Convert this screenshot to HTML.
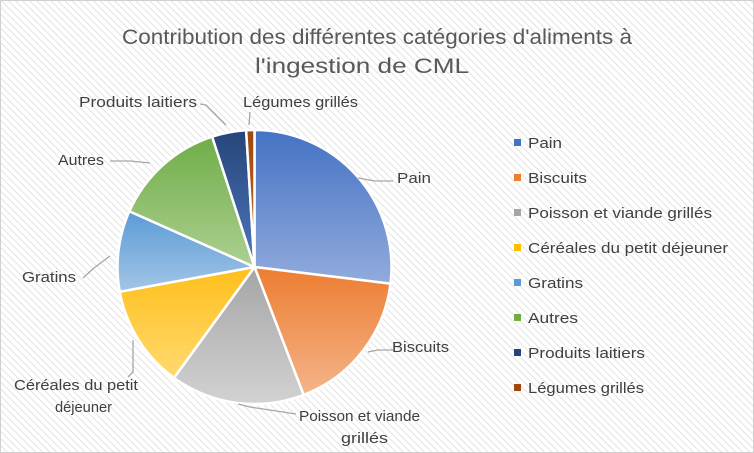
<!DOCTYPE html>
<html><head><meta charset="utf-8"><style>
html,body{margin:0;padding:0;background:#fff}
svg{display:block;font-family:"Liberation Sans",sans-serif}
</style></head><body>
<svg width="754" height="453" viewBox="0 0 754 453" xmlns="http://www.w3.org/2000/svg">
<defs>
<pattern id="h" width="5" height="5" patternUnits="userSpaceOnUse" patternTransform="rotate(-45)">
<rect width="5" height="5" fill="#fff"/><line x1="0" y1="0" x2="0" y2="5" stroke="#dcdcdc" stroke-width="1.6"/>
</pattern>
<linearGradient id="g0" x1="0" y1="0" x2="0" y2="1"><stop offset="0" stop-color="#4472C4"/><stop offset="1" stop-color="#92abdc"/></linearGradient>
<linearGradient id="g1" x1="0" y1="0" x2="0" y2="1"><stop offset="0" stop-color="#ED7D31"/><stop offset="1" stop-color="#f4b48a"/></linearGradient>
<linearGradient id="g2" x1="0" y1="0" x2="0" y2="1"><stop offset="0" stop-color="#a5a5a5"/><stop offset="1" stop-color="#d2d2d2"/></linearGradient>
<linearGradient id="g3" x1="0" y1="0" x2="0" y2="1"><stop offset="0" stop-color="#ffbf1a"/><stop offset="1" stop-color="#ffd970"/></linearGradient>
<linearGradient id="g4" x1="0" y1="0" x2="0" y2="1"><stop offset="0" stop-color="#5B9BD5"/><stop offset="1" stop-color="#a3c5e7"/></linearGradient>
<linearGradient id="g5" x1="0" y1="0" x2="0" y2="1"><stop offset="0" stop-color="#70AD47"/><stop offset="1" stop-color="#acd092"/></linearGradient>
<linearGradient id="g6" x1="0" y1="0" x2="0" y2="1"><stop offset="0" stop-color="#264478"/><stop offset="1" stop-color="#4f77bf"/></linearGradient>
<linearGradient id="g7" x1="0" y1="0" x2="0" y2="1"><stop offset="0" stop-color="#9E480E"/><stop offset="1" stop-color="#c86a2c"/></linearGradient>
</defs>
<rect x="0.5" y="0.5" width="753" height="452" fill="url(#h)" stroke="#d0d0d0"/>
<text x="122" y="44" font-size="21" fill="#595959" textLength="510" lengthAdjust="spacingAndGlyphs">Contribution des différentes catégories d'aliments à</text>
<text x="255" y="73" font-size="21" fill="#595959" textLength="214" lengthAdjust="spacingAndGlyphs">l'ingestion de CML</text>
<g stroke="#fff" stroke-width="2.5" stroke-linejoin="round">
<path fill="url(#g0)" d="M254.5,267 L254.5,130 A137,137 0 0 1 390.48,283.70 Z"/>
<path fill="url(#g1)" d="M254.5,267 L390.48,283.70 A137,137 0 0 1 303.60,394.90 Z"/>
<path fill="url(#g2)" d="M254.5,267 L303.60,394.90 A137,137 0 0 1 173.97,377.84 Z"/>
<path fill="url(#g3)" d="M254.5,267 L173.97,377.84 A137,137 0 0 1 119.75,291.73 Z"/>
<path fill="url(#g4)" d="M254.5,267 L119.75,291.73 A137,137 0 0 1 129.35,211.28 Z"/>
<path fill="url(#g5)" d="M254.5,267 L129.35,211.28 A137,137 0 0 1 212.16,136.70 Z"/>
<path fill="url(#g6)" d="M254.5,267 L212.16,136.70 A137,137 0 0 1 246.14,130.26 Z"/>
<path fill="url(#g7)" d="M254.5,267 L246.14,130.26 A137,137 0 0 1 254.5,130 Z"/>
</g>
<g stroke="#a6a6a6" stroke-width="1.3" fill="none">
<polyline points="358,178 375,181 393,181"/>
<polyline points="368,352 378,350 393,350"/>
<polyline points="238,404 250,407 296,414"/>
<polyline points="133,340 133,372 128,377"/>
<polyline points="83,278 94,268 110,256"/>
<polyline points="110,161 130,161 150,163"/>
<polyline points="200,104 206,105 226,125"/>
<polyline points="250,112 249,125"/>
</g>
<g font-size="15" fill="#404040" lengthAdjust="spacingAndGlyphs">
<text x="397" y="183" textLength="34" lengthAdjust="spacingAndGlyphs">Pain</text>
<text x="392" y="352" textLength="57" lengthAdjust="spacingAndGlyphs">Biscuits</text>
<text x="299" y="421" textLength="121" lengthAdjust="spacingAndGlyphs">Poisson et viande</text>
<text x="341" y="443" textLength="47" lengthAdjust="spacingAndGlyphs">grillés</text>
<text x="14" y="390" textLength="124" lengthAdjust="spacingAndGlyphs">Céréales du petit</text>
<text x="55" y="412" textLength="57" lengthAdjust="spacingAndGlyphs">déjeuner</text>
<text x="22" y="282" textLength="54" lengthAdjust="spacingAndGlyphs">Gratins</text>
<text x="58" y="165" textLength="46" lengthAdjust="spacingAndGlyphs">Autres</text>
<text x="79" y="107" textLength="118" lengthAdjust="spacingAndGlyphs">Produits laitiers</text>
<text x="243" y="107" textLength="115" lengthAdjust="spacingAndGlyphs">Légumes grillés</text>
</g>
<g font-size="15" fill="#404040">
<rect x="514" y="139" width="7" height="7" fill="#4472C4"/><text x="528" y="148" textLength="34" lengthAdjust="spacingAndGlyphs">Pain</text>
<rect x="514" y="174" width="7" height="7" fill="#ED7D31"/><text x="528" y="183" textLength="59" lengthAdjust="spacingAndGlyphs">Biscuits</text>
<rect x="514" y="209" width="7" height="7" fill="#A5A5A5"/><text x="528" y="218" textLength="184" lengthAdjust="spacingAndGlyphs">Poisson et viande grillés</text>
<rect x="514" y="244" width="7" height="7" fill="#FFC000"/><text x="528" y="253" textLength="200" lengthAdjust="spacingAndGlyphs">Céréales du petit déjeuner</text>
<rect x="514" y="279" width="7" height="7" fill="#5B9BD5"/><text x="528" y="288" textLength="55" lengthAdjust="spacingAndGlyphs">Gratins</text>
<rect x="514" y="314" width="7" height="7" fill="#70AD47"/><text x="528" y="323" textLength="50" lengthAdjust="spacingAndGlyphs">Autres</text>
<rect x="514" y="349" width="7" height="7" fill="#264478"/><text x="528" y="358" textLength="117" lengthAdjust="spacingAndGlyphs">Produits laitiers</text>
<rect x="514" y="384" width="7" height="7" fill="#9E480E"/><text x="528" y="393" textLength="116" lengthAdjust="spacingAndGlyphs">Légumes grillés</text>
</g>
</svg>
</body></html>
